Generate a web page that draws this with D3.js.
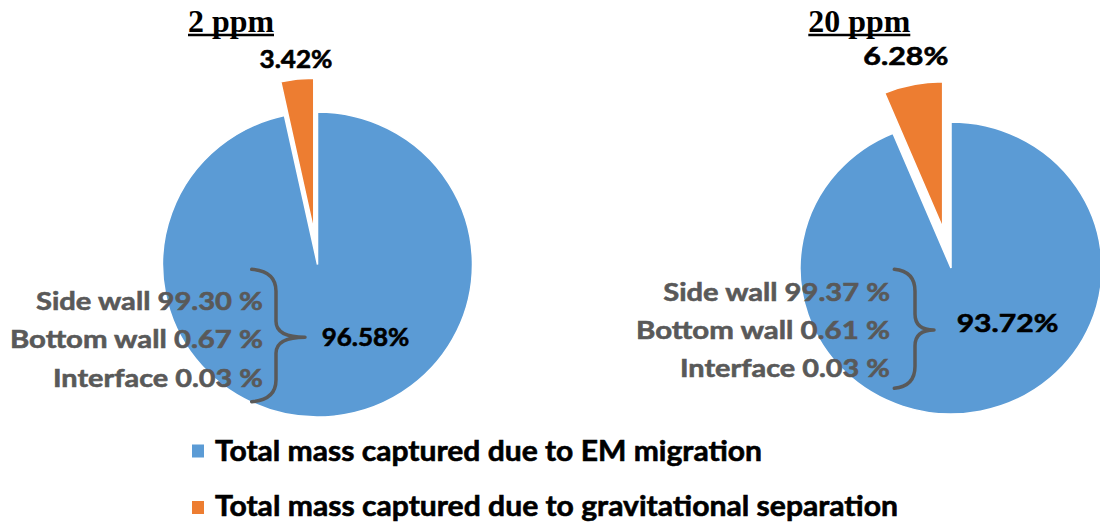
<!DOCTYPE html>
<html>
<head>
<meta charset="utf-8">
<script src="https://cdn.jsdelivr.net/npm/d3@7"></script>
<style>
  html, body { margin: 0; padding: 0; background: #ffffff; }
  svg { display: block; }
</style>
</head>
<body>
<div id="chart"></div>
<script>
// ---- data ----
const concentrations = ["2 ppm", "20 ppm"];
const categories = [
  "Total mass captured due to EM migration",
  "Total mass captured due to gravitational separation"
];
const emShare = [96.58, 93.72];      // % captured by EM migration
const gravShare = [3.42, 6.28];      // % captured by gravitational separation
const surfaces = ["Side wall", "Bottom wall", "Interface"];
const surfaceShare2ppm = [99.30, 0.67, 0.03];
const surfaceShare20ppm = [99.37, 0.61, 0.03];

// ---- styles ----
const colors = ["#5B9BD5", "#ED7D31"];
const labelFont = "Lato, 'Open Sans', sans-serif";
const grey = "#595959";

const W = 1100, H = 525;
const svg = d3.select("#chart").append("svg")
  .attr("width", W).attr("height", H)
  .attr("viewBox", `0 0 ${W} ${H}`);

// ---- layout of the two panels ----
const panels = [
  {
    title: concentrations[0], titleX: 188, titleW: 86,
    cx: 317.5, cy: 264.5, rx: 155, ry: 152.5, explode: 34,
    values: [emShare[0], gravShare[0]],
    surf: surfaceShare2ppm,
    emLabel: { x: 365.5, y: 345.7, w: 87.7 },
    gravLabel: { x: 296, y: 68.3, w: 73 },
    sideRight: 263, sideBase: [310, 348.3, 387.3], sideW: [227, 253, 210],
    brace: { x0: 251.7, x1: 276, tip: 305, top: 269.3, bottom: 401.7, mid: 337.3 }
  },
  {
    title: concentrations[1], titleX: 808.3, titleW: 102,
    cx: 951, cy: 268, rx: 151, ry: 146, explode: 41,
    values: [emShare[1], gravShare[1]],
    surf: surfaceShare20ppm,
    emLabel: { x: 1007.5, y: 331.7, w: 101.7 },
    gravLabel: { x: 905.8, y: 65, w: 85 },
    sideRight: 890, sideBase: [300.7, 339, 376.7], sideW: [226.7, 254, 210],
    brace: { x0: 894.3, x1: 915, tip: 934, top: 269.3, bottom: 388.3, mid: 330 }
  }
];

const pie = d3.pie().sort(null).value(d => d);
const fmt2 = d3.format(".2f");

// stretch a text run to a given width and give it a heavier stroke
function fit(sel, w, color) {
  sel.attr("textLength", w).attr("lengthAdjust", "spacingAndGlyphs");
  if (color) sel.attr("stroke", color).attr("stroke-width", 0.6);
  return sel;
}

panels.forEach(p => {
  // title with underline
  const t = svg.append("text")
    .attr("x", p.titleX).attr("y", 31.7)
    .attr("font-family", "'Liberation Serif', 'Times New Roman', serif")
    .attr("font-weight", "bold")
    .attr("font-size", 32)
    .attr("fill", "#000")
    .text(p.title);
  fit(t, p.titleW);
  svg.append("line")
    .attr("x1", p.titleX).attr("x2", p.titleX + p.titleW)
    .attr("y1", 35).attr("y2", 35)
    .attr("stroke", "#000").attr("stroke-width", 2.5);

  // pie
  const arc = d3.arc().innerRadius(0).outerRadius(p.ry);
  const g = svg.append("g")
    .attr("transform", `translate(${p.cx},${p.cy}) scale(${p.rx / p.ry},1)`);
  const arcs = pie(p.values);
  g.selectAll("path").data(arcs).join("path")
    .attr("d", arc)
    .attr("fill", (d, i) => colors[i])
    .attr("stroke", "#ffffff")
    .attr("stroke-width", 1.5)
    .attr("transform", (d, i) => {
      if (i === 0) return null;
      const a = (d.startAngle + d.endAngle) / 2;
      return `translate(${p.explode * Math.sin(a)},${-p.explode * Math.cos(a)})`;
    });

  // slice labels
  const em = svg.append("text")
    .attr("x", p.emLabel.x).attr("y", p.emLabel.y)
    .attr("text-anchor", "middle")
    .attr("font-family", labelFont).attr("font-weight", "bold")
    .attr("font-size", 25).attr("fill", "#000")
    .text(fmt2(p.values[0]) + "%");
  fit(em, p.emLabel.w, "#000");
  const gr = svg.append("text")
    .attr("x", p.gravLabel.x).attr("y", p.gravLabel.y)
    .attr("text-anchor", "middle")
    .attr("font-family", labelFont).attr("font-weight", "bold")
    .attr("font-size", 25).attr("fill", "#000")
    .text(fmt2(p.values[1]) + "%");
  fit(gr, p.gravLabel.w, "#000");

  // breakdown of the EM share by capture surface
  surfaces.forEach((s, i) => {
    const tx = svg.append("text")
      .attr("x", p.sideRight).attr("y", p.sideBase[i])
      .attr("text-anchor", "end")
      .attr("font-family", labelFont).attr("font-weight", "bold")
      .attr("font-size", 25.5).attr("fill", grey)
      .text(`${s} ${fmt2(p.surf[i])} %`);
    fit(tx, p.sideW[i], grey);
  });

  // curly brace joining the breakdown to the EM share
  const b = p.brace;
  const path = d3.path();
  const r = 22;
  path.moveTo(b.x0, b.top);
  path.quadraticCurveTo(b.x1, b.top + 2, b.x1, b.top + r);
  path.lineTo(b.x1, b.mid - 16);
  path.quadraticCurveTo(b.x1, b.mid, b.tip, b.mid);
  path.quadraticCurveTo(b.x1, b.mid, b.x1, b.mid + 16);
  path.lineTo(b.x1, b.bottom - r);
  path.quadraticCurveTo(b.x1, b.bottom - 2, b.x0, b.bottom);
  svg.append("path")
    .attr("d", path.toString())
    .attr("fill", "none")
    .attr("stroke", grey)
    .attr("stroke-width", 3.5)
    .attr("stroke-linecap", "round")
    .attr("stroke-linejoin", "round");
});

// ---- legend ----
const legend = svg.append("g");
const legY = [444.5, 501];
const legBase = [460.7, 516];
const legW = [547, 683];
categories.forEach((c, i) => {
  legend.append("rect")
    .attr("x", 192).attr("y", legY[i])
    .attr("width", 12).attr("height", 13)
    .attr("fill", colors[i]);
  const tx = legend.append("text")
    .attr("x", 215).attr("y", legBase[i])
    .attr("font-family", labelFont).attr("font-weight", "bold")
    .attr("font-size", 29).attr("fill", "#000")
    .text(c);
  fit(tx, legW[i], "#000");
});
</script>
</body>
</html>
